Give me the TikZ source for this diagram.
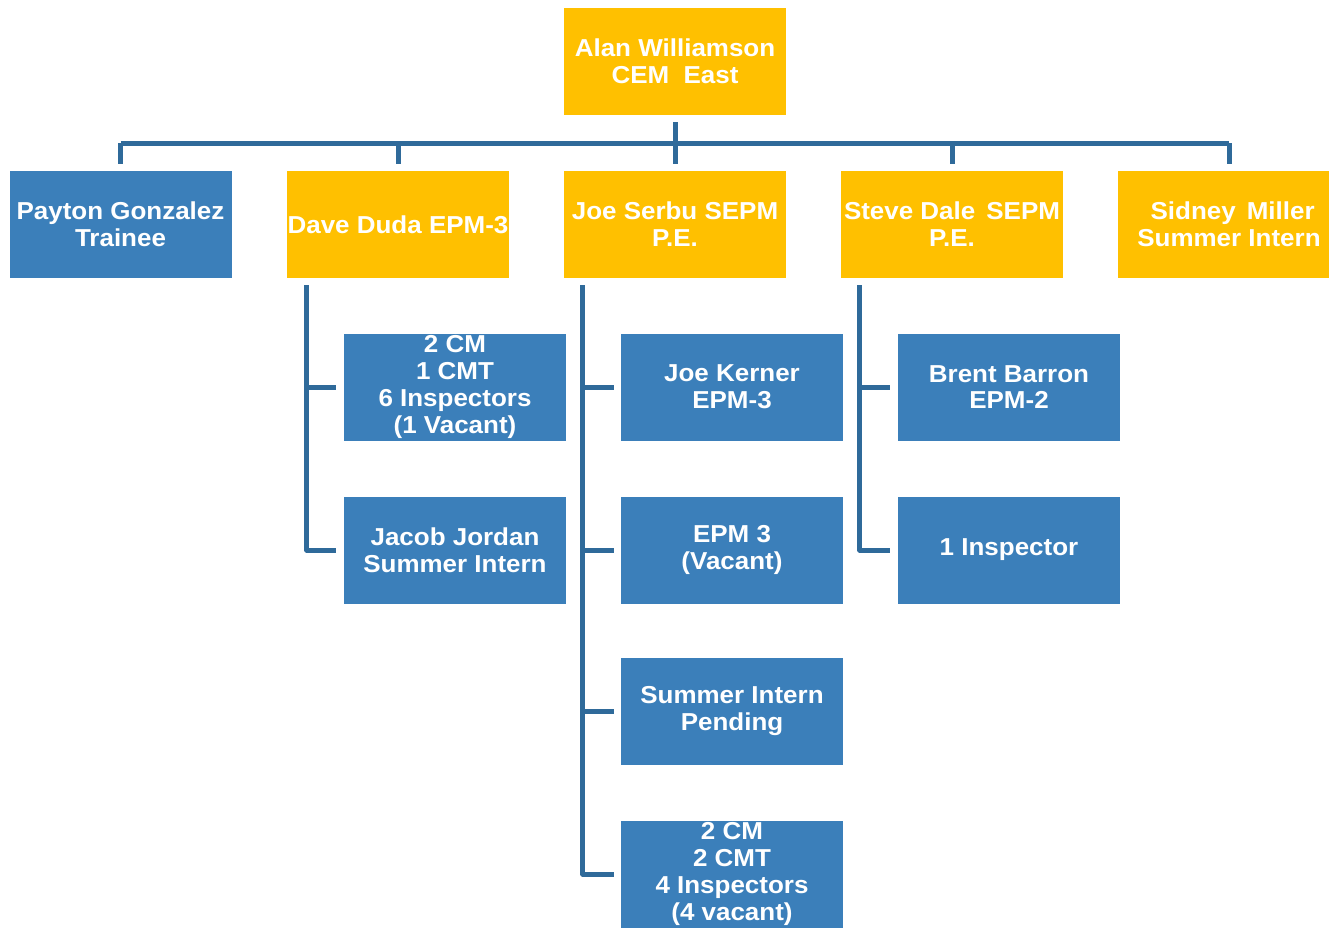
\documentclass[tikz,border=0pt]{standalone}
\usepackage{fontspec}
\setmainfont{Liberation Sans}[FakeStretch=1.06]
\definecolor{gold}{HTML}{FFC000}
\definecolor{boxblue}{HTML}{3B7FBA}
\definecolor{lineblue}{HTML}{2F6A9A}
\begin{document}
\begin{tikzpicture}[x=1pt,y=-1pt,
  box/.style={rectangle, minimum width=222pt, minimum height=107pt, inner sep=0pt,
    text=white, align=center, font=\bfseries\fontsize{24.5}{26.8}\selectfont},
  goldbox/.style={box, fill=gold},
  bluebox/.style={box, fill=boxblue},
  conn/.style={draw=lineblue, line width=5pt, line join=round}]
\useasboundingbox (0,0) rectangle (1329,929);
% top
\node[goldbox] (top) at (675,61.5) {Alan Williamson\\CEM\ \ East};
% row 1
\node[bluebox] (payton) at (120.5,224.5) {Payton Gonzalez\\Trainee};
\node[goldbox] (dave) at (398,224.5) {Dave Duda EPM-3};
\node[goldbox] (joe) at (675,224.5) {Joe Serbu SEPM\\P.E.};
\node[goldbox] (steve) at (952,224.5) {Steve Dale\hspace{0.45em}SEPM\\P.E.};
\node[goldbox] (sidney) at (1229,224.5) {\ Sidney\hspace{0.45em}Miller\\Summer Intern};
% Dave children
\node[bluebox] (d1) at (455,387) {2 CM\\1 CMT\\6 Inspectors\\(1 Vacant)};
\node[bluebox] (d2) at (455,550) {Jacob Jordan\\Summer Intern};
% Joe children
\node[bluebox] (j1) at (732,387) {Joe Kerner\\EPM-3};
\node[bluebox] (j2) at (732,550) {EPM 3\\(Vacant)};
\node[bluebox] (j3) at (732,711) {Summer Intern\\Pending};
\node[bluebox] (j4) at (732,874) {2 CM\\2 CMT\\4 Inspectors\\(4 vacant)};
% Steve children
\node[bluebox] (s1) at (1009,387) {Brent Barron\\EPM-2};
\node[bluebox] (s2) at (1009,550) {1 Inspector};
% bus
\coordinate (bus) at (675,143);
\draw[conn, shorten <=7pt] (top.south) -- (bus);
\draw[conn] (payton.north |- bus) -- (sidney.north |- bus);
\foreach \n in {payton,dave,joe,steve,sidney}
  \draw[conn, shorten >=7pt] (\n.north |- bus) -- (\n.north);
% child trees
\coordinate (dv) at ([xshift=20pt,yshift=-7pt]dave.south west);
\draw[conn] (dv) |- ([xshift=-8pt]d2.west);
\draw[conn, shorten >=8pt] (dv |- d1.west) -- (d1.west);
\coordinate (jv) at ([xshift=19pt,yshift=-7pt]joe.south west);
\draw[conn] (jv) |- ([xshift=-7pt]j4.west);
\foreach \n in {j1,j2,j3}
  \draw[conn, shorten >=7pt] (jv |- \n.west) -- (\n.west);
\coordinate (sv) at ([xshift=19pt,yshift=-7pt]steve.south west);
\draw[conn] (sv) |- ([xshift=-8pt]s2.west);
\draw[conn, shorten >=8pt] (sv |- s1.west) -- (s1.west);
\end{tikzpicture}
\end{document}
